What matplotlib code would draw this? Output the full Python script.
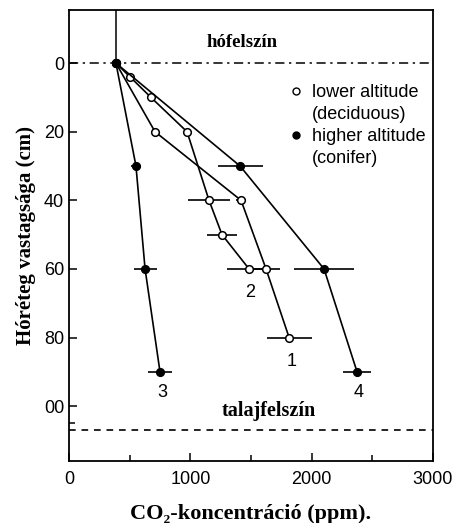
import matplotlib
matplotlib.use("Agg")
import matplotlib.pyplot as plt
from matplotlib.lines import Line2D

# CO2 (ppm) vs depth (cm) profiles in snowpack
atm_co2 = 387

s1_depth = [0, 20, 40, 60, 80]
s1_co2 = [387, 709, 1418, 1624, 1814]
s1_err = [0, 0, 40, 115, 185]

s2_depth = [0, 4, 10, 20, 40, 50, 60]
s2_co2 = [387, 503, 676, 973, 1154, 1261, 1484]
s2_err = [0, 0, 0, 0, 177, 120, 180]

s3_depth = [0, 30, 60, 90]
s3_co2 = [387, 552, 627, 750]
s3_err = [0, 40, 95, 95]

s4_depth = [0, 30, 60, 90]
s4_co2 = [387, 1410, 2102, 2374]
s4_err = [0, 185, 247, 115]

curve_labels = ["1", "2", "3", "4"]
label_x = [1838, 1492, 767, 2391]
label_y = [87, 67, 96, 96]

snow_surface = 0
ground_surface = 107

sans = ["Liberation Sans", "DejaVu Sans"]
serif = ["Liberation Serif", "DejaVu Serif"]

fig = plt.figure(figsize=(4.6, 5.23), dpi=100)
ax = fig.add_axes([69 / 460, 1 - 461 / 523, 364 / 460, 451 / 523])

# open circles = lower altitude, filled = higher altitude
for d, c, e, face in [(s1_depth, s1_co2, s1_err, "white"),
                      (s2_depth, s2_co2, s2_err, "white"),
                      (s3_depth, s3_co2, s3_err, "black"),
                      (s4_depth, s4_co2, s4_err, "black")]:
    ax.errorbar(c, d, xerr=e, color="black", lw=1.2, elinewidth=1.2, capsize=0,
                marker="o", ms=5.5, mfc=face, mec="black", mew=1.1, zorder=3)

ax.plot([atm_co2, atm_co2], [-20, snow_surface], color="black", lw=1.1)
ax.axhline(snow_surface, color="black", lw=1.1, linestyle=(0, (6, 3, 1.5, 3)))
ax.axhline(ground_surface, color="black", lw=1.2, linestyle=(0, (4, 3.5)))

for lab, x, y in zip(curve_labels, label_x, label_y):
    ax.text(x, y, lab, ha="center", va="center", fontsize=13, family=sans)

ax.text(1426, -6, "hófelszín", ha="center", va="center", fontsize=13.5,
        fontweight="bold", family=serif)
ax.text(1649, 101.5, "talajfelszín", ha="center", va="center", fontsize=14.5,
        fontweight="bold", family=serif)

handles = [Line2D([], [], ls="none", marker="o", ms=5, mfc="white", mec="black"),
           Line2D([], [], ls="none"),
           Line2D([], [], ls="none", marker="o", ms=5, mfc="black", mec="black"),
           Line2D([], [], ls="none")]
ax.legend(handles, ["lower altitude", "(deciduous)", "higher altitude", "(conifer)"],
          loc="upper left", bbox_to_anchor=(0.583, 0.855), frameon=False,
          prop={"family": sans, "size": 13}, handlelength=0.6,
          handletextpad=0.6, labelspacing=0.27, borderpad=0)

ax.set_xlim(0, 3000)
ax.set_ylim(116, -15.5)
ax.set_xticks([0, 1000, 2000, 3000])
ax.set_xticks([500, 1500, 2500], minor=True)
ax.set_yticks([0, 20, 40, 60, 80, 100])
ax.set_yticks([105], minor=True)
ax.set_yticklabels(["0", "20", "40", "60", "80", "00"])
ax.tick_params(which="both", direction="in", labelsize=13, width=1.1)
ax.tick_params(which="major", length=6)
ax.tick_params(which="minor", length=4)
ax.tick_params(axis="x", pad=7)
for t in ax.get_xticklabels() + ax.get_yticklabels():
    t.set_family(sans)
for s in ax.spines.values():
    s.set_linewidth(1.3)

ax.set_xlabel("CO₂-koncentráció (ppm).", fontsize=16, fontweight="bold",
              family=serif, labelpad=12)
ax.set_ylabel("Hóréteg vastagsága (cm)", fontsize=15, fontweight="bold",
              family=serif, labelpad=6)

fig.savefig("out.png", dpi=100)
